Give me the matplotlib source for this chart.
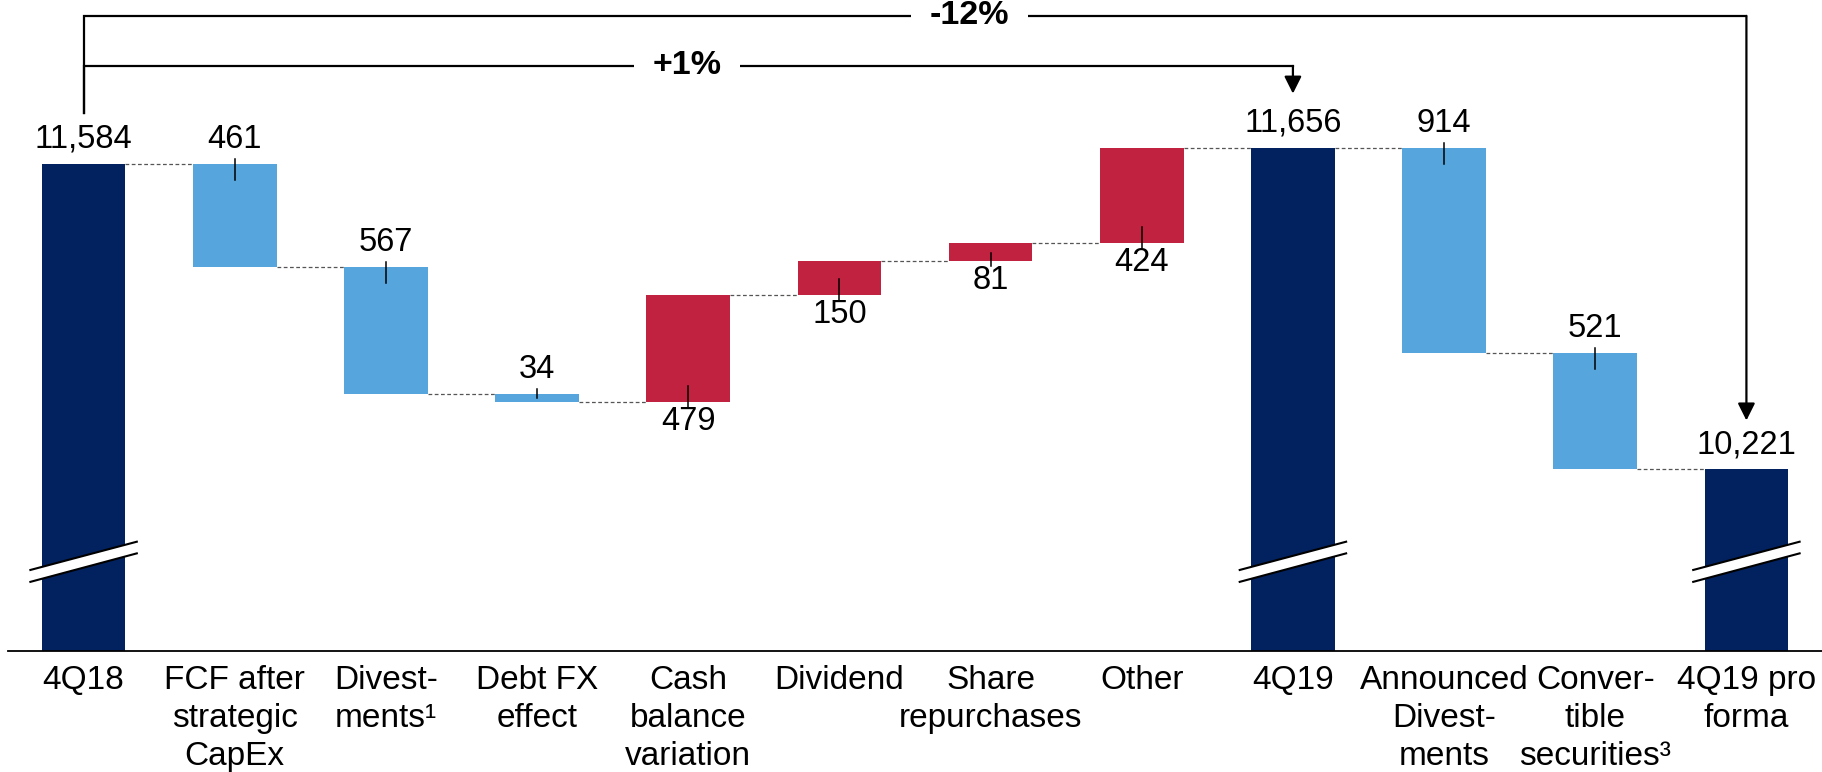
import numpy as np
import matplotlib
matplotlib.use("Agg")
from matplotlib import pyplot as plt

plt.rcParams['font.family'] = ['Liberation Sans', 'DejaVu Sans']

# data
categories = ["4Q18", "FCF after\nstrategic\nCapEx", "Divest-\nments\u00b9", "Debt FX\neffect",
              "Cash\nbalance\nvariation", "Dividend", "Share\nrepurchases", "Other", "4Q19",
              "Announced\nDivest-\nments", "Conver-\ntible\nsecurities\u00b3", "4Q19 pro\nforma"]
values = [11584, -461, -567, -34, 479, 150, 81, 424, 11656, -914, -521, 10221]
is_total = [True, False, False, False, False, False, False, False, True, False, False, True]
growth_labels = ["+1%", "-12%"]

navy = '#02215F'
blue = '#56A5DC'
red = '#C0223F'
ymin, ymax = 9413, 12314
px = 4.458  # data units per pixel (vertical)

fig = plt.figure(figsize=(18.22, 7.72), dpi=100)
ax = fig.add_axes([0.0044, 0.1571, 0.9956, 0.8429])
ax.set_xlim(-0.5, 11.5)
ax.set_ylim(ymin, ymax)

w = 0.553
level = 0
bottoms, tops = [], []
for i, (v, tot) in enumerate(zip(values, is_total)):
    if tot:
        b, t = 0, v
        c = navy
        level = v
    else:
        b, t = (level + v, level) if v < 0 else (level, level + v)
        c = blue if v < 0 else red
        prev = level
        level += v
    bottoms.append(b)
    tops.append(t)
    ax.bar(i, t - b, bottom=b, width=w, color=c, zorder=2)

    if tot or v < 0:
        ax.annotate(f"{abs(v):,}", (i, t), xytext=(0, 11.5), textcoords='offset points',
                    ha='center', va='baseline', fontsize=23.5)
    else:
        ax.annotate(f"{abs(v):,}", (i, b), xytext=(0, -20.5), textcoords='offset points',
                    ha='center', va='baseline', fontsize=23.5)
    if not tot:
        h = abs(v)
        inner = min(16 * px, 0.45 * h)
        if v < 0:
            ax.plot([i, i], [prev + 5 * px, prev - inner], color='k', lw=1.1, zorder=3)
        else:
            ax.plot([i, i], [prev - 5 * px, prev + inner], color='k', lw=1.1, zorder=3)

# dashed connectors
level = 0
for i, v in enumerate(values[:-1]):
    level = v if is_total[i] else level + v
    ax.plot([i + w / 2, i + 1 - w / 2], [level, level], color='#555555', lw=0.9,
            ls=(0, (3, 2)), zorder=1)

# axis breaks on total bars
for i, tot in enumerate(is_total):
    if not tot:
        continue
    xl, xr = i - 0.352, i + 0.352
    lo = [9720, 9847]
    hi = [9773, 9899]
    ax.fill([xl, xr, xr, xl], [lo[0], lo[1], hi[1], hi[0]], color='white', zorder=4, lw=0)
    ax.plot([xl, xr], lo, color='k', lw=1.5, zorder=5)
    ax.plot([xl, xr], hi, color='k', lw=1.5, zorder=5)

# growth arrows
def growth(x0, x1, y_line, y_start, y_tip, text, text_x):
    ax.plot([x0, x0, x1], [y_start, y_line, y_line], color='k', lw=1.6,
            solid_joinstyle='miter', zorder=3, clip_on=False)
    ax.annotate('', xy=(x1, y_tip), xytext=(x1, y_line),
                arrowprops=dict(arrowstyle='-|>', lw=1.6, color='k', mutation_scale=26,
                                shrinkA=0, shrinkB=0), zorder=3)
    ax.text(text_x, y_line, text, ha='center', va='center', fontsize=24.5, fontweight='bold',
            bbox=dict(boxstyle='square,pad=0.55', fc='white', ec='none'), zorder=4)

growth(0, 8, 12020, tops[0] + 51 * px, tops[8] + 54 * px, growth_labels[0], 3.99)
growth(0, 11, 12243, tops[0] + 51 * px, tops[11] + 49 * px, growth_labels[1], 5.86)

for s in ['top', 'right', 'left']:
    ax.spines[s].set_visible(False)
ax.spines['bottom'].set_linewidth(1.3)
ax.set_yticks([])
ax.set_xticks(range(len(categories)), categories, fontsize=24, linespacing=1.29)
ax.tick_params(axis='x', length=0, pad=10)

fig.savefig('out.png', dpi=100)
